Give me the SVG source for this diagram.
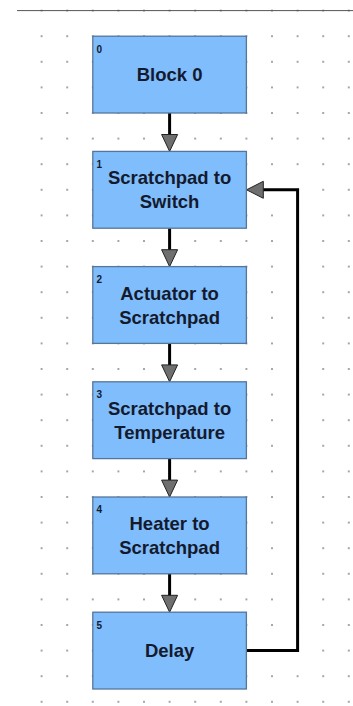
<svg xmlns="http://www.w3.org/2000/svg" width="353" height="706" viewBox="0 0 353 706">
<style>
.blk{fill:#80bdfc;stroke:#55759a;stroke-width:1.3}
.t{font-family:"Liberation Sans",Arial,sans-serif;font-weight:bold;font-size:18.5px;fill:#141a2e;text-anchor:middle}
.n{font-family:"Liberation Sans",Arial,sans-serif;font-weight:bold;font-size:10px;fill:#141a2e}
.w{fill:none;stroke:#000;stroke-width:3}
.ah{fill:#6f6f6f;stroke:#222;stroke-width:1}
</style>
<defs>
<pattern id="dots" patternUnits="userSpaceOnUse" x="3.2" y="-2.2" width="25.6" height="25.6">
<circle cx="12.8" cy="12.8" r="0.8" fill="#333"/>
</pattern>
</defs>
<rect x="0" y="0" width="353" height="706" fill="#fff"/>
<rect x="30" y="0" width="323" height="706" fill="url(#dots)"/>
<line x1="17" y1="10.6" x2="353" y2="10.6" stroke="#555" stroke-width="1"/>
<g id="connectors">
<line class="w" x1="169.6" y1="113" x2="169.6" y2="136"/>
<polygon class="ah" points="161.6,134.5 177.6,134.5 169.6,151.4"/>
<line class="w" x1="169.6" y1="228.2" x2="169.6" y2="251"/>
<polygon class="ah" points="161.6,249.7 177.6,249.7 169.6,266.6"/>
<line class="w" x1="169.6" y1="343.4" x2="169.6" y2="366"/>
<polygon class="ah" points="161.6,364.9 177.6,364.9 169.6,381.8"/>
<line class="w" x1="169.6" y1="458.6" x2="169.6" y2="481"/>
<polygon class="ah" points="161.6,480.1 177.6,480.1 169.6,497"/>
<line class="w" x1="169.6" y1="573.8" x2="169.6" y2="596"/>
<polygon class="ah" points="161.6,595.3 177.6,595.3 169.6,612.2"/>
<polyline class="w" points="246.4,650.6 297.6,650.6 297.6,189.8 262,189.8"/>
<polygon class="ah" points="263.3,181.3 263.3,198.3 246.6,189.8"/>
</g>
<g id="block0">
<rect class="blk" x="92.8" y="36.2" width="153.6" height="76.8"/>
<text class="n" x="96.5" y="52.5">0</text>
<text class="t" x="169.6" y="80.8">Block 0</text>
</g>
<g id="block1">
<rect class="blk" x="92.8" y="151.4" width="153.6" height="76.8"/>
<text class="n" x="96.5" y="167.7">1</text>
<text class="t" x="169.6" y="184.3">Scratchpad to</text>
<text class="t" x="169.6" y="208.3">Switch</text>
</g>
<g id="block2">
<rect class="blk" x="92.8" y="266.6" width="153.6" height="76.8"/>
<text class="n" x="96.5" y="282.9">2</text>
<text class="t" x="169.6" y="299.5">Actuator to</text>
<text class="t" x="169.6" y="323.5">Scratchpad</text>
</g>
<g id="block3">
<rect class="blk" x="92.8" y="381.8" width="153.6" height="76.8"/>
<text class="n" x="96.5" y="398.1">3</text>
<text class="t" x="169.6" y="414.8">Scratchpad to</text>
<text class="t" x="169.6" y="438.5">Temperature</text>
</g>
<g id="block4">
<rect class="blk" x="92.8" y="497" width="153.6" height="76.8"/>
<text class="n" x="96.5" y="513.3">4</text>
<text class="t" x="169.6" y="530">Heater to</text>
<text class="t" x="169.6" y="554">Scratchpad</text>
</g>
<g id="block5">
<rect class="blk" x="92.8" y="612.2" width="153.6" height="76.8"/>
<text class="n" x="96.5" y="628.5">5</text>
<text class="t" x="169.6" y="657">Delay</text>
</g>
</svg>
